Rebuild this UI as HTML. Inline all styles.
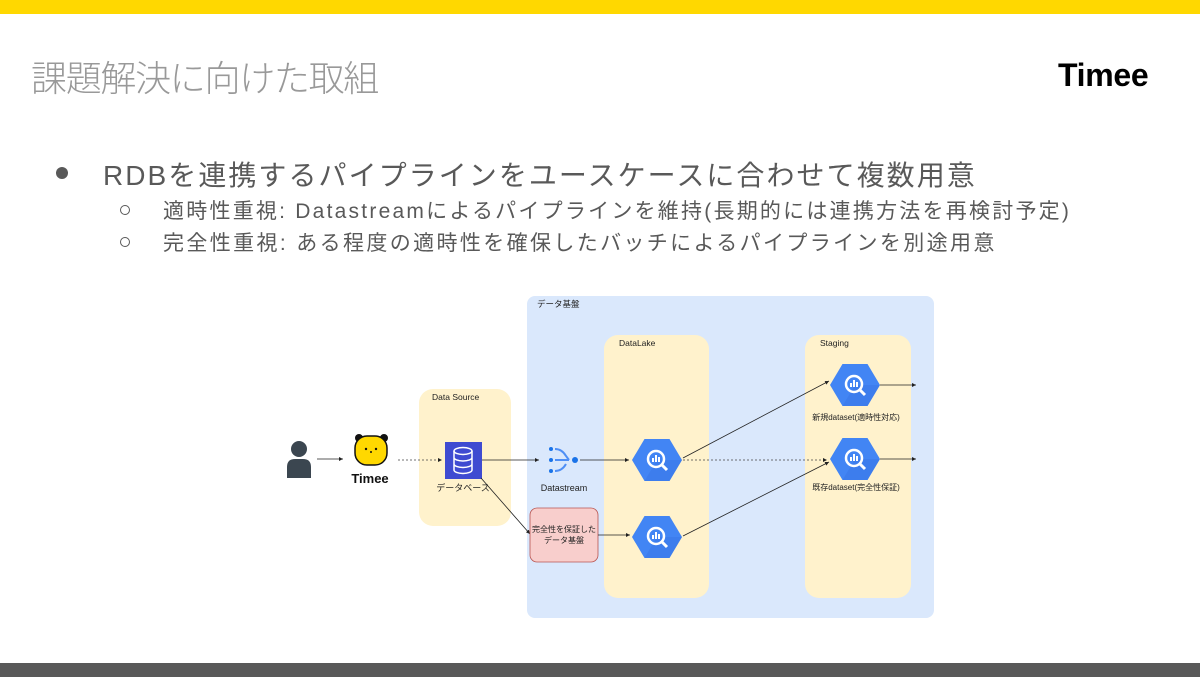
<!DOCTYPE html>
<html><head><meta charset="utf-8"><style>
body{margin:0;width:1200px;height:677px;position:relative;overflow:hidden;background:#fff;font-family:"Liberation Sans","Noto Sans CJK JP",sans-serif;}
.t{position:absolute;white-space:nowrap;}
</style></head><body>
<div style="position:absolute;left:0;top:0;width:1200px;height:14px;background:#FFD800"></div>
<div style="position:absolute;left:0;top:663px;width:1200px;height:14px;background:#595959"></div>
<div class="t" style="left:31px;top:50px;font-size:36px;letter-spacing:-1.3px;color:#999;font-weight:300;">課題解決に向けた取組</div>
<div class="t" style="left:1058px;top:57px;font-size:32px;font-weight:bold;color:#000;letter-spacing:-0.3px;">Timee</div>
<div style="position:absolute;left:56px;top:167px;width:12px;height:12px;border-radius:50%;background:#595959"></div>
<div class="t" style="left:103px;top:154px;font-size:28px;letter-spacing:2.05px;color:#595959;">RDBを連携するパイプラインをユースケースに合わせて複数用意</div>
<div style="position:absolute;left:120px;top:205px;width:8px;height:8px;border-radius:50%;border:1px solid #595959"></div>
<div style="position:absolute;left:120px;top:237px;width:8px;height:8px;border-radius:50%;border:1px solid #595959"></div>
<div class="t" style="left:163px;top:195px;font-size:21px;letter-spacing:2.23px;color:#595959;">適時性重視: Datastreamによるパイプラインを維持(長期的には連携方法を再検討予定)</div>
<div class="t" style="left:163px;top:227px;font-size:21px;letter-spacing:2.37px;color:#595959;">完全性重視: ある程度の適時性を確保したバッチによるパイプラインを別途用意</div>
<svg style="position:absolute;left:0;top:0" width="1200" height="677" font-family="Liberation Sans, Noto Sans CJK JP, sans-serif">
<defs>
<marker id="a" markerWidth="6" markerHeight="6" refX="5" refY="3" orient="auto"><path d="M0,0.5 L5,3 L0,5.5 z" fill="#222"/></marker>
<symbol id="hex" viewBox="-25 -21 50 42"><polygon points="-25,0 -12.5,-21 12.5,-21 25,0 12.5,21 -12.5,21" fill="#4285f4"/><polygon points="0,0 25,0 12.5,21 -12.5,21" fill="#3b78e7" opacity="0.6"/><circle cx="-1" cy="-1" r="8" fill="none" stroke="#fff" stroke-width="2.5"/><line x1="5" y1="5" x2="10" y2="10" stroke="#fff" stroke-width="3"/><rect x="-5" y="-2" width="2" height="4" fill="#fff"/><rect x="-2" y="-5" width="2" height="7" fill="#fff"/><rect x="1" y="-3" width="2" height="5" fill="#fff"/></symbol>
</defs>
<rect x="527" y="296" width="407" height="322" rx="8" fill="#dae8fc"/>
<text x="537" y="307" font-size="8.5" fill="#222">データ基盤</text>
<rect x="604" y="335" width="105" height="263" rx="14" fill="#fff2cc"/>
<text x="619" y="346" font-size="8.5" fill="#222">DataLake</text>
<rect x="805" y="335" width="106" height="263" rx="14" fill="#fff2cc"/>
<text x="820" y="346" font-size="8.5" fill="#222">Staging</text>
<rect x="419" y="389" width="92" height="137" rx="14" fill="#fff2cc"/>
<text x="432" y="400" font-size="8.5" fill="#222">Data Source</text>
<circle cx="299" cy="449" r="8" fill="#3b4650"/>
<path d="M287,478 L287,467 Q287,459 295,459 L303,459 Q311,459 311,467 L311,478 z" fill="#3b4650"/>
<line x1="317" y1="459" x2="343" y2="459" stroke="#222" stroke-width="0.8" marker-end="url(#a)"/>
<circle cx="359" cy="438" r="4" fill="#111"/><circle cx="384" cy="438" r="4" fill="#111"/>
<rect x="355" y="436" width="32" height="29" rx="12" fill="#FFD800" stroke="#111" stroke-width="1.5"/>
<circle cx="366" cy="449" r="1.2" fill="#111"/><circle cx="376" cy="449" r="1.2" fill="#111"/><circle cx="371" cy="452" r="1" fill="#111"/>
<text x="370" y="483" font-size="13" font-weight="bold" text-anchor="middle" fill="#111">Timee</text>
<line x1="398" y1="460" x2="442" y2="460" stroke="#444" stroke-width="0.8" stroke-dasharray="2,2" marker-end="url(#a)"/>
<rect x="445" y="442" width="37" height="37" fill="#3f4bd1"/>
<ellipse cx="463" cy="451" rx="9" ry="3.5" fill="none" stroke="#fff" stroke-width="1.5"/>
<path d="M454,451 V470 A9,3.5 0 0 0 472,470 V451 M454,457.5 A9,3.5 0 0 0 472,457.5 M454,464 A9,3.5 0 0 0 472,464" fill="none" stroke="#fff" stroke-width="1.5"/>
<text x="463" y="491" font-size="9" text-anchor="middle" fill="#222">データベース</text>
<line x1="482" y1="460" x2="539" y2="460" stroke="#222" stroke-width="0.8" marker-end="url(#a)"/>
<circle cx="551" cy="449" r="2" fill="#1a73e8"/><circle cx="551" cy="460" r="2" fill="#1a73e8"/><circle cx="551" cy="471" r="2" fill="#1a73e8"/>
<circle cx="575" cy="460" r="3" fill="#1a73e8"/>
<path d="M555,449 Q562,449 566,456 L569,460 M555,460 H569 M555,471 Q562,471 566,464" fill="none" stroke="#4f8ff5" stroke-width="2"/>
<text x="564" y="491" font-size="9" text-anchor="middle" fill="#222">Datastream</text>
<line x1="580" y1="460" x2="629" y2="460" stroke="#222" stroke-width="0.8" marker-end="url(#a)"/>
<line x1="481" y1="478" x2="530" y2="534" stroke="#222" stroke-width="0.8" marker-end="url(#a)"/>
<rect x="530" y="508" width="68" height="54" rx="7" fill="#f8cecc" stroke="#b85450" stroke-width="0.8"/>
<text x="564" y="532" font-size="8" text-anchor="middle" fill="#222">完全性を保証した</text>
<text x="564" y="543" font-size="8" text-anchor="middle" fill="#222">データ基盤</text>
<line x1="598" y1="535" x2="630" y2="535" stroke="#222" stroke-width="0.8" marker-end="url(#a)"/>
<use href="#hex" x="632" y="439" width="50" height="42"/>
<use href="#hex" x="632" y="516" width="50" height="42"/>
<use href="#hex" x="830" y="364" width="50" height="42"/>
<use href="#hex" x="830" y="438" width="50" height="42"/>
<line x1="683" y1="458" x2="829" y2="381" stroke="#222" stroke-width="0.8" marker-end="url(#a)"/>
<line x1="683" y1="460" x2="827" y2="460" stroke="#444" stroke-width="0.8" stroke-dasharray="2,2" marker-end="url(#a)"/>
<line x1="683" y1="536" x2="829" y2="462" stroke="#222" stroke-width="0.8" marker-end="url(#a)"/>
<line x1="880" y1="385" x2="916" y2="385" stroke="#222" stroke-width="0.8" marker-end="url(#a)"/>
<line x1="880" y1="459" x2="916" y2="459" stroke="#222" stroke-width="0.8" marker-end="url(#a)"/>
<text x="856" y="420" font-size="8" text-anchor="middle" fill="#222">新規dataset(適時性対応)</text>
<text x="856" y="490" font-size="8" text-anchor="middle" fill="#222">既存dataset(完全性保証)</text>
</svg>
</body></html>
